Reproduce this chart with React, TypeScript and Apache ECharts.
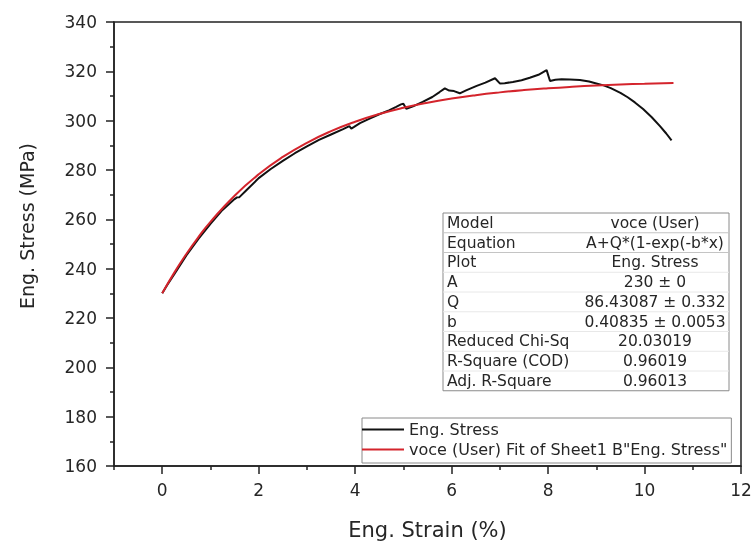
import React, { useEffect, useRef } from 'react';
import * as echarts from 'echarts';

// Measured curve (Eng. Stress)
const strainData = [
  0, 0.1, 0.25, 0.5, 0.75, 1.0, 1.25, 1.5, 1.55, 1.6, 1.75, 2.0, 2.25, 2.5, 2.75, 3.0, 3.25, 3.5, 3.75,
  3.88, 3.92, 3.97, 4.1, 4.3, 4.5, 4.7, 4.85, 4.95, 5.0, 5.06, 5.2, 5.4, 5.6, 5.75, 5.86, 5.95, 6.05,
  6.17, 6.3, 6.52, 6.7, 6.9, 7.0, 7.1, 7.27, 7.45, 7.62, 7.8, 7.97, 8.04, 8.15, 8.28, 8.45, 8.66, 8.85,
  9.0, 9.15, 9.3, 9.5, 9.65, 9.8, 9.97, 10.15, 10.32, 10.45, 10.56,
];
const stressData = [
  230, 233.3, 237.8, 245.4, 252.1, 258.2, 263.8, 268.2, 268.9, 269.0, 271.9, 276.7, 280.4, 283.7, 286.8,
  289.6, 292.2, 294.4, 296.6, 297.8, 296.8, 297.4, 299.0, 300.8, 302.6, 304.2, 305.6, 306.6, 306.9, 304.8,
  305.8, 307.6, 309.6, 311.6, 313.1, 312.2, 312.0, 311.1, 312.3, 314.1, 315.4, 317.2, 315.1, 315.2, 315.7,
  316.4, 317.4, 318.6, 320.5, 316.1, 316.6, 316.8, 316.7, 316.5, 315.9, 315.1, 314.3, 313.2, 311.3, 309.5,
  307.4, 304.7, 301.4, 297.8, 294.8, 292.0,
];

// Fitted curve (voce)
const fitStrain = [0, 0.25, 0.5, 0.75, 1, 1.5, 2, 2.5, 3, 3.5, 4, 4.5, 5, 5.5, 6, 6.5, 7, 7.5, 8, 8.5, 9, 9.5, 10, 10.6];
const fitStress = [
  230, 238.39, 245.96, 252.8, 258.97, 269.59, 278.24, 285.29, 291.04, 295.73, 299.55, 302.67, 305.21,
  307.28, 308.97, 310.35, 311.47, 312.39, 313.13, 313.74, 314.24, 314.64, 314.97, 315.29,
];

const xMajorTicks = [0, 2, 4, 6, 8, 10, 12];
const xMinorTicks = [-1, 1, 3, 5, 7, 9, 11];

const tableLabels = ['Model', 'Equation', 'Plot', 'A', 'Q', 'b', 'Reduced Chi-Sq', 'R-Square (COD)', 'Adj. R-Square'];
const tableValues = [
  'voce (User)', 'A+Q*(1-exp(-b*x)', 'Eng. Stress', '230 ± 0', '86.43087 ± 0.332', '0.40835 ± 0.0053',
  '20.03019', '0.96019', '0.96013',
];

const seriesNames = ['Eng. Stress', 'voce (User) Fit of Sheet1 B"Eng. Stress"'];

const FONT = 'DejaVu Sans';
const AXIS_COLOR = '#222';
const TEXT_COLOR = '#262626';

export default function App() {
  const ref = useRef<HTMLDivElement>(null);

  useEffect(() => {
    const chart = echarts.init(ref.current!, null, { renderer: 'svg' });

    const tableTop = 213;
    const tableLeft = 443;
    const tableRight = 729;
    const rowH = 19.75;
    const tableChildren: any[] = [
      {
        type: 'rect',
        shape: { x: tableLeft, y: tableTop, width: tableRight - tableLeft, height: rowH * tableLabels.length },
        style: { fill: '#fff', stroke: '#8a8a8a', lineWidth: 1 },
      },
    ];
    for (let i = 1; i < tableLabels.length; i++) {
      tableChildren.push({
        type: 'line',
        shape: { x1: tableLeft, y1: tableTop + i * rowH, x2: tableRight, y2: tableTop + i * rowH },
        style: { stroke: i <= 2 ? '#c4c4c4' : '#e8e8e8', lineWidth: 1 },
      });
    }
    tableLabels.forEach((lab, i) => {
      const cy = tableTop + rowH * (i + 0.5);
      tableChildren.push({
        type: 'text',
        x: tableLeft + 4,
        y: cy,
        style: { text: lab, fontFamily: FONT, fontSize: 15.5, fill: TEXT_COLOR, align: 'left', verticalAlign: 'middle' },
      });
      tableChildren.push({
        type: 'text',
        x: 655,
        y: cy,
        style: { text: tableValues[i], fontFamily: FONT, fontSize: 15.5, fill: TEXT_COLOR, align: 'center', verticalAlign: 'middle' },
      });
    });

    const axisLineStyle = { color: AXIS_COLOR, width: 1.5 };

    chart.setOption({
      animation: false,
      textStyle: { fontFamily: FONT },
      grid: {
        left: 114, right: 11, top: 22, bottom: 80,
        show: true, borderColor: AXIS_COLOR, borderWidth: 1.5,
        outerBoundsMode: 'none',
      },
      legend: {
        orient: 'vertical',
        left: 362,
        top: 418,
        data: seriesNames,
        icon: 'rect',
        itemWidth: 42,
        itemHeight: 2,
        itemGap: 3,
        selectedMode: false,
        padding: [3, 4, 5, 0],
        borderColor: '#8a8a8a',
        borderWidth: 1,
        backgroundColor: '#fff',
        textStyle: { fontFamily: FONT, fontSize: 16, color: TEXT_COLOR, lineHeight: 17 },
      },
      xAxis: [
        {
          type: 'value', min: -1, max: 12, interval: 1,
          axisLine: { show: true, onZero: false, lineStyle: axisLineStyle },
          axisTick: { show: true, length: 8, lineStyle: axisLineStyle, customValues: xMajorTicks },
          axisLabel: { show: true, margin: 15, fontSize: 17, color: TEXT_COLOR, fontFamily: FONT, customValues: xMajorTicks },
          splitLine: { show: false },
          name: 'Eng. Strain (%)',
          nameLocation: 'middle',
          nameGap: 53,
          nameTextStyle: { fontSize: 21, color: TEXT_COLOR, fontFamily: FONT },
        },
        {
          type: 'value', min: -1, max: 12, interval: 1, position: 'bottom',
          axisLine: { show: false, onZero: false },
          axisTick: { show: true, length: 4, lineStyle: axisLineStyle, customValues: xMinorTicks },
          axisLabel: { show: false },
          splitLine: { show: false },
        },
      ],
      yAxis: {
        type: 'value', min: 160, max: 340, interval: 20,
        axisLine: { show: true, onZero: false, lineStyle: axisLineStyle },
        axisTick: { show: true, length: 8, lineStyle: axisLineStyle },
        minorTick: { show: true, splitNumber: 2, length: 4, lineStyle: axisLineStyle },
        axisLabel: { margin: 17, fontSize: 17, color: TEXT_COLOR, fontFamily: FONT },
        splitLine: { show: false },
        name: 'Eng. Stress (MPa)',
        nameLocation: 'middle',
        nameGap: 78,
        nameTextStyle: { fontSize: 19, color: TEXT_COLOR, fontFamily: FONT, padding: [0, 0, 0, 36] },
      },
      series: [
        {
          name: seriesNames[0],
          type: 'line',
          xAxisIndex: 0,
          data: strainData.map((x, i) => [x, stressData[i]]),
          symbol: 'none',
          color: '#111',
          lineStyle: { color: '#111', width: 2 },
          z: 2,
        },
        {
          name: seriesNames[1],
          type: 'line',
          xAxisIndex: 0,
          data: fitStrain.map((x, i) => [x, fitStress[i]]),
          symbol: 'none',
          smooth: true,
          color: '#d4242c',
          lineStyle: { color: '#d4242c', width: 2 },
          z: 3,
        },
      ],
      graphic: [{ type: 'group', children: tableChildren }],
    });

    return () => chart.dispose();
  }, []);

  return <div ref={ref} style={{ position: 'fixed', left: 0, top: 0, width: 752, height: 546 }} />;
}
